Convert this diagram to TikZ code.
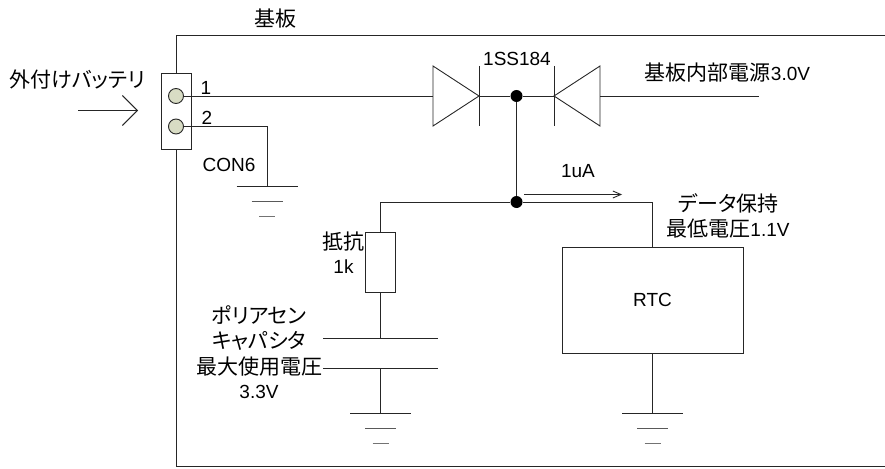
\documentclass[tikz,border=0pt]{standalone}
\usepackage{fontspec}
\setmainfont{Liberation Sans}
\newfontfamily\cjk[RawFeature=+palt]{Noto Sans CJK JP}
\usetikzlibrary{arrows.meta}
\newcommand{\lat}[1]{{\normalfont\fontsize{19}{19}\selectfont #1}}
\tikzset{
  x=1pt,y=-1pt,
  wire/.style={draw=black!85,line width=0.9pt},
  box/.style={draw=black!85,line width=0.9pt,fill=white,minimum width=#1,inner sep=0pt},
  pin/.style={circle,draw=black!85,line width=0.9pt,fill=pinfill,minimum size=15pt,inner sep=0pt},
  junction/.style={circle,fill=black,minimum size=12pt,inner sep=0pt},
  lbl/.style={inner sep=0pt,align=center,font=\fontsize{19}{19}\selectfont},
  jplbl/.style={inner sep=0pt,align=center,font=\fontsize{21}{25.7}\selectfont\cjk},
  bigopen/.style={-{Straight Barb[length=15pt,width=30pt,line width=0.9pt]}},
  smallopen/.style={-{Straight Barb[length=8pt,width=7pt,line width=0.9pt]}},
}
\definecolor{pinfill}{HTML}{D8DCC4}
\newcommand{\gnd}[1]{%
  \draw[wire] ([xshift=-30.5pt]#1) -- ([xshift=30.5pt]#1);
  \draw[wire,draw=black!65] ([xshift=-15.5pt,yshift=-15pt]#1) -- ([xshift=15.5pt,yshift=-15pt]#1);
  \draw[wire,draw=black!55] ([xshift=-8pt,yshift=-30pt]#1) -- ([xshift=8pt,yshift=-30pt]#1);
}
\begin{document}
\begin{tikzpicture}
\useasboundingbox (0,0) rectangle (885,468);
% board
\coordinate (bTL) at (176,35.5);
\coordinate (bTR) at (885,35.5);
\coordinate (bBL) at (176,466.5);
\coordinate (bBR) at (885,466.5);
\draw[wire] (bTR) -- (bTL) -- (bBL) -- (bBR);
% connector
\node[box=30pt,minimum height=76pt] (con) at (176.5,111) {};
\node[pin] (p1) at (176,96) {};
\node[pin] (p2) at (176,126.5) {};
% diodes
\coordinate (d1a) at (433,96);
\coordinate (d1k) at (479,96);
\coordinate (d2k) at (554,96);
\coordinate (d2a) at (600,96);
\coordinate (vccend) at (759,96);
\draw[wire] (d1a) ++(0,-30) -- ++(0,60) -- (d1k) -- cycle;
\draw[wire] (d1k) ++(0,-30) -- ++(0,60);
\draw[wire] (d2a) ++(0,-30) -- ++(0,60) -- (d2k) -- cycle;
\draw[wire] (d2k) ++(0,-30) -- ++(0,60);
\node[junction] (j1) at (516.5,96) {};
\node[junction] (j2) at (516.5,202) {};
% rtc
\node[box=181pt,minimum height=106pt] (rtc) at (652.5,300) {\fontsize{19}{19}\selectfont RTC};
% resistor
\node[box=30pt,minimum height=60.5pt] (res) at (380.5,262.2) {};
\coordinate (capT) at (380.5,338);
\coordinate (capB) at (380.5,368);
\coordinate (capTL) at (323,338);
\coordinate (capTR) at (437.5,338);
\coordinate (capBL) at (323,368);
\coordinate (capBR) at (437.5,368);
% ground points
\coordinate (g1) at (267,186.5);
\coordinate (g2) at (380.5,413.5);
\coordinate (g3) at (652.5,413.5);
\coordinate (c2) at (267,126.5);
\coordinate (c3) at (380.5,202);
\coordinate (c4) at (652.5,202);
% wires
\draw[wire] (p1) -- (d1a);
\draw[wire] (d1k) -- (j1) -- (d2k);
\draw[wire] (d2a) -- (vccend);
\draw[wire] (j1) -- (j2);
\draw[wire] (p2) -- (c2) -- (g1);
\draw[wire] (res.north) -- (c3) -- (j2) -- (c4) -- (rtc.north);
\draw[wire] (res.south) -- (capT);
\draw[wire] (capTL) -- (capTR);
\draw[wire] (capBL) -- (capBR);
\draw[wire] (capB) -- (g2);
\draw[wire] (rtc.south) -- (g3);
\gnd{g1}\gnd{g2}\gnd{g3}
% arrows
\coordinate (a1s) at (78,110.5);
\coordinate (a1e) at (138,110.5);
\coordinate (a2s) at (524,194.5);
\coordinate (a2e) at (622,194.5);
\draw[wire,bigopen] (a1s) -- (a1e);
\draw[wire,smallopen] (a2s) -- (a2e);
% labels
\node[jplbl] (t1) at (275,19) {基板};
\node[jplbl] (t2) at (77.5,80) {外付けバッテリ};
\node[lbl] (t3) at (206,88) {1};
\node[lbl] (t4) at (207,118) {2};
\node[lbl] (t5) at (229,164.5) {CON6};
\node[lbl] (t6) at (517,58.5) {1SS184};
\node[jplbl] (t7) at (727.5,72.5) {基板内部電源\lat{3.0V}};
\node[lbl] (t8) at (578,171.5) {1uA};
\node[jplbl] (t9) at (728,216) {データ保持\\最低電圧\lat{1.1V}};
\node[jplbl] (t10) at (343.5,253) {抵抗\\[-2pt]\lat{1k}};
\node[jplbl] (t11) at (259,352) {ポリアセン\\キャパシタ\\最大使用電圧\\[-2pt]\lat{3.3V}};
\end{tikzpicture}
\end{document}
